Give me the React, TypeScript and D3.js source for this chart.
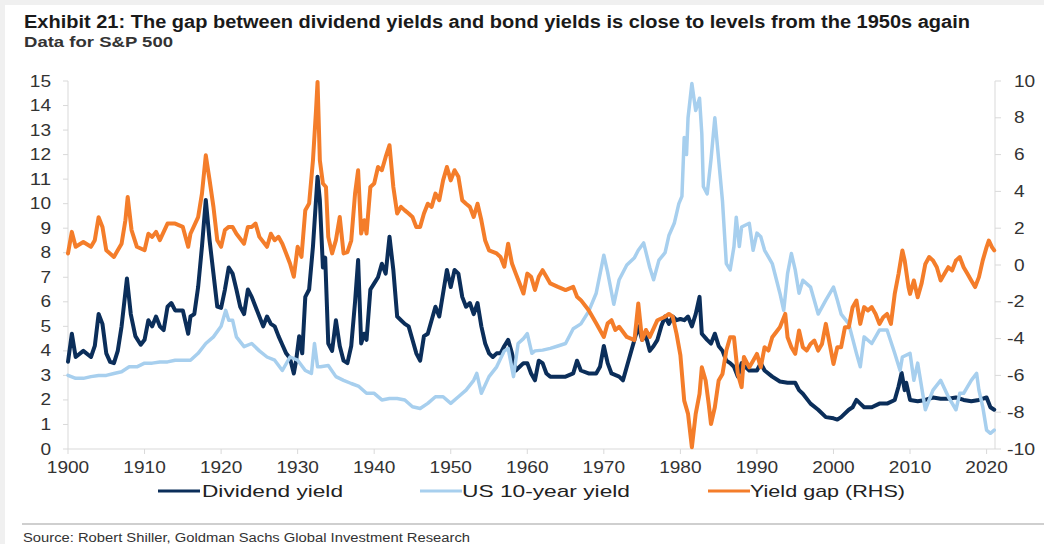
import React from "react";
import { scaleLinear, line, range } from "d3";

// S&P 500 data: [year, value]
const dividendYield: [number, number][] = [
  [1900, 3.56], [1900.5, 4.7], [1901, 3.75], [1902, 4.0], [1903, 3.75], [1903.5, 4.2], [1904, 5.5], [1904.5, 5.1],
  [1905, 3.9], [1905.5, 3.55], [1906, 3.5], [1906.5, 4.0], [1907, 5.0], [1907.7, 6.95], [1908.2, 5.5], [1908.8, 4.6],
  [1909.5, 4.25], [1910, 4.45], [1910.5, 5.25], [1911, 5.0], [1911.5, 5.4], [1912, 5.0], [1912.5, 4.85], [1913, 5.8],
  [1913.5, 5.95], [1914, 5.65], [1915, 5.65], [1915.7, 4.7], [1916, 5.4], [1916.5, 5.5], [1917, 6.6], [1917.5, 8.25],
  [1918, 10.15], [1918.5, 8.5], [1919, 7.15], [1919.5, 5.8], [1920, 5.75], [1920.5, 6.5], [1921, 7.4], [1921.5, 7.15],
  [1922, 6.5], [1922.5, 5.8], [1923, 5.5], [1923.5, 6.5], [1924, 6.2], [1924.5, 5.8], [1925, 5.4], [1925.5, 5.0],
  [1926, 5.4], [1926.5, 5.1], [1927, 5.0], [1927.5, 4.6], [1928, 4.25], [1928.5, 3.9], [1929, 3.7], [1929.5, 3.08],
  [1929.8, 3.6], [1930.2, 4.6], [1930.6, 3.9], [1931, 6.2], [1931.5, 6.5], [1932, 8.25], [1932.4, 10.15], [1932.6, 11.1],
  [1932.9, 10.15], [1933.3, 7.4], [1933.6, 7.8], [1934, 4.3], [1934.5, 4.0], [1935, 5.25], [1935.5, 4.2], [1936, 3.6],
  [1936.5, 3.5], [1937, 4.2], [1937.5, 6.0], [1937.9, 7.7], [1938.3, 4.3], [1938.7, 4.7], [1939, 4.45], [1939.5, 6.5],
  [1940, 6.75], [1940.5, 7.0], [1941, 7.55], [1941.5, 7.15], [1942, 8.65], [1942.5, 7.3], [1943, 5.4], [1943.5, 5.25],
  [1944, 5.1], [1944.5, 5.0], [1945, 4.45], [1945.5, 3.9], [1946, 3.6], [1946.5, 4.6], [1947, 4.7], [1947.5, 5.25],
  [1948, 5.8], [1948.5, 5.4], [1949, 6.35], [1949.5, 7.3], [1950, 6.6], [1950.5, 7.3], [1951, 7.15], [1951.5, 6.2],
  [1952, 5.8], [1952.5, 5.95], [1953, 5.5], [1953.5, 5.95], [1954, 5.0], [1954.5, 4.3], [1955, 3.9], [1955.5, 3.75],
  [1956, 3.9], [1956.5, 3.9], [1957, 4.2], [1957.5, 4.45], [1958, 3.9], [1958.5, 3.2], [1959, 3.35], [1959.5, 3.5],
  [1960, 3.5], [1960.5, 3.08], [1961, 2.8], [1961.5, 3.6], [1962, 3.5], [1962.5, 3.08], [1963, 2.95], [1964, 2.95],
  [1965, 2.95], [1966, 3.08], [1966.5, 3.6], [1967, 3.2], [1968, 3.08], [1969, 3.08], [1969.5, 3.35], [1970, 4.2],
  [1970.5, 3.5], [1971, 3.08], [1972, 2.95], [1972.5, 2.8], [1973, 3.35], [1973.5, 3.9], [1974, 4.45], [1974.5, 5.0],
  [1975, 4.45], [1975.5, 4.6], [1976, 4.0], [1976.5, 4.2], [1977, 4.45], [1977.5, 5.0], [1978, 5.4], [1978.5, 5.1],
  [1979, 5.4], [1979.5, 5.25], [1980, 5.3], [1980.5, 5.25], [1981, 5.4], [1981.5, 5.0], [1982, 5.5], [1982.5, 6.2],
  [1982.8, 4.7], [1983.5, 4.45], [1984, 4.3], [1984.5, 4.7], [1985, 4.2], [1985.5, 4.0], [1986, 3.6], [1986.5, 3.5],
  [1987, 3.35], [1987.5, 2.95], [1988, 3.5], [1988.5, 3.35], [1989, 3.2], [1990, 3.2], [1990.5, 3.5], [1991, 3.2],
  [1992, 2.95], [1993, 2.75], [1994, 2.7], [1995, 2.7], [1995.5, 2.4], [1996, 2.25], [1997, 1.85], [1998, 1.6],
  [1999, 1.3], [2000, 1.25], [2000.5, 1.2], [2001, 1.3], [2002, 1.6], [2002.5, 1.7], [2003, 2.0], [2003.5, 1.85],
  [2004, 1.7], [2005, 1.7], [2006, 1.85], [2007, 1.85], [2008, 2.0], [2008.5, 2.55], [2008.9, 3.1], [2009.3, 2.4],
  [2009.5, 2.7], [2010, 2.0], [2011, 1.95], [2012, 2.0], [2013, 2.1], [2014, 2.05], [2015, 2.05], [2016, 2.1],
  [2017, 2.0], [2018, 1.95], [2019, 2.0], [2020, 2.1], [2020.5, 1.7], [2021, 1.6],
];

const us10yYield: [number, number][] = [
  [1900, 3.0], [1901, 2.88], [1902, 2.88], [1903, 2.95], [1904, 3.0], [1905, 3.0], [1906, 3.08], [1907, 3.15],
  [1908, 3.35], [1909, 3.35], [1910, 3.5], [1911, 3.5], [1912, 3.55], [1913, 3.55], [1914, 3.62], [1915, 3.62],
  [1916, 3.62], [1917, 3.9], [1918, 4.3], [1919, 4.57], [1920, 5.0], [1920.6, 5.65], [1921, 5.25], [1921.5, 5.25],
  [1922, 4.57], [1923, 4.17], [1924, 4.3], [1925, 4.0], [1926, 3.75], [1927, 3.62], [1928, 3.2], [1929, 3.75],
  [1930, 3.62], [1931, 3.2], [1931.8, 3.08], [1932.2, 4.3], [1932.6, 3.35], [1933, 3.35], [1934, 3.4], [1935, 2.95],
  [1936, 2.8], [1937, 2.67], [1938, 2.55], [1939, 2.27], [1940, 2.27], [1941, 2.0], [1942, 2.06], [1943, 2.06],
  [1944, 2.0], [1945, 1.72], [1946, 1.65], [1947, 1.86], [1948, 2.13], [1949, 2.13], [1950, 1.86], [1951, 2.13],
  [1952, 2.4], [1953, 2.8], [1953.4, 3.08], [1954, 2.27], [1955, 2.95], [1956, 3.35], [1957, 4.0], [1957.5, 4.1],
  [1958.2, 2.95], [1958.8, 4.3], [1959.5, 4.5], [1960, 4.7], [1960.6, 3.9], [1961, 4.0], [1962, 4.03], [1963, 4.1],
  [1964, 4.2], [1965, 4.3], [1966, 4.9], [1967, 5.1], [1968, 5.6], [1969, 6.35], [1970, 7.9], [1970.5, 7.2],
  [1971.3, 5.9], [1972, 6.9], [1973, 7.5], [1974, 7.8], [1974.5, 8.1], [1975.2, 8.4], [1976, 7.4], [1976.5, 6.9],
  [1977.2, 7.7], [1978, 8.0], [1978.5, 8.7], [1979.2, 9.2], [1979.8, 10.0], [1980.2, 10.3], [1980.5, 12.7],
  [1980.8, 12.0], [1981, 13.5], [1981.5, 14.9], [1982, 13.8], [1982.5, 14.3], [1982.8, 12.85], [1983, 10.7],
  [1983.5, 10.4], [1984, 11.8], [1984.5, 13.5], [1985, 11.8], [1985.5, 10.1], [1986, 7.56], [1986.5, 7.3],
  [1987, 8.25], [1987.3, 9.45], [1987.7, 8.25], [1988, 9.05], [1989, 9.2], [1989.5, 8.1], [1990, 8.8], [1990.5, 8.65],
  [1991, 8.1], [1992, 7.56], [1993, 6.35], [1993.5, 5.65], [1994, 7.15], [1994.5, 7.97], [1995, 7.3], [1995.5, 6.35],
  [1996, 6.88], [1997, 6.6], [1998, 5.5], [1999, 6.07], [2000, 6.6], [2000.5, 6.07], [2001, 5.5], [2002, 5.1],
  [2003, 3.9], [2003.5, 3.35], [2004, 4.57], [2005, 4.3], [2006, 4.85], [2007, 4.85], [2008, 3.9], [2008.7, 3.2],
  [2009, 3.75], [2010, 3.9], [2010.5, 2.8], [2011, 3.5], [2012, 1.6], [2013, 2.4], [2014, 2.8], [2015, 2.13],
  [2016, 1.6], [2016.5, 2.27], [2017, 2.27], [2018, 2.8], [2018.7, 3.08], [2019, 2.4], [2019.5, 1.72], [2020, 0.77],
  [2020.5, 0.64], [2021, 0.77],
];

// yield gap, right hand scale
const yieldGap: [number, number][] = [
  [1900, 0.63], [1900.5, 1.8], [1901, 0.99], [1902, 1.25], [1903, 0.99], [1903.5, 1.35], [1904, 2.6], [1904.5, 2.07],
  [1905, 0.8], [1906, 0.44], [1906.5, 0.8], [1907, 1.16], [1907.5, 2.43], [1907.8, 3.7], [1908.3, 1.9], [1909, 0.99],
  [1910, 0.8], [1910.5, 1.7], [1911, 1.53], [1911.5, 1.8], [1912, 1.35], [1913, 2.25], [1914, 2.25], [1915, 2.07],
  [1915.7, 0.99], [1916, 1.7], [1917, 2.6], [1917.5, 3.88], [1918, 5.96], [1918.5, 4.6], [1919, 3.16], [1919.5, 1.35],
  [1920, 0.99], [1920.5, 1.9], [1921, 2.07], [1921.5, 2.07], [1922, 1.7], [1923, 1.16], [1923.5, 2.07], [1924, 2.07],
  [1924.5, 2.25], [1925, 1.53], [1926, 0.99], [1926.5, 1.7], [1927, 1.35], [1927.5, 1.53], [1928, 1.16], [1928.5, 0.63],
  [1929, 0.08], [1929.5, -0.64], [1930, 0.99], [1930.5, 0.44], [1931, 2.98], [1931.5, 3.34], [1932, 5.69], [1932.4, 8.4],
  [1932.6, 9.95], [1932.9, 5.69], [1933.3, 4.43], [1933.7, 4.24], [1934, 1.53], [1934.5, 0.63], [1935, 1.35], [1935.5, 2.61],
  [1936, 0.63], [1936.5, 0.7], [1937, 1.33], [1937.5, 3.88], [1937.9, 5.15], [1938.3, 1.71], [1938.7, 2.43], [1939, 1.71],
  [1939.5, 4.24], [1940, 4.43], [1940.5, 5.33], [1941, 5.15], [1941.5, 5.87], [1942, 6.51], [1942.5, 4.24], [1943, 2.8],
  [1943.5, 3.16], [1944, 2.97], [1944.5, 2.8], [1945, 2.61], [1945.5, 2.07], [1946, 2.07], [1946.5, 2.8], [1947, 3.33],
  [1947.5, 3.16], [1948, 3.88], [1948.5, 3.52], [1949, 4.6], [1949.5, 5.33], [1950, 4.6], [1950.5, 5.15], [1951, 4.79],
  [1951.5, 3.52], [1952, 3.33], [1952.5, 3.16], [1953, 2.61], [1953.5, 3.33], [1954, 2.43], [1954.5, 1.33], [1955, 0.8],
  [1956, 0.63], [1956.5, 0.44], [1957, -0.09], [1957.5, 1.16], [1958, 0.08], [1958.5, -0.47], [1959, -1.0], [1959.5, -1.55],
  [1960, -0.47], [1960.5, -0.64], [1961, -1.36], [1961.5, -0.64], [1962, -0.28], [1962.5, -0.64], [1963, -1.0], [1964, -1.19],
  [1965, -1.36], [1966, -1.19], [1966.5, -1.73], [1967, -1.91], [1968, -2.45], [1969, -3.17], [1970, -3.91], [1970.5, -3.17],
  [1971, -3.0], [1971.5, -3.53], [1972, -3.36], [1973, -3.91], [1974, -4.08], [1974.5, -2.09], [1975, -4.08], [1975.5, -3.53],
  [1976, -3.91], [1977, -3.0], [1978, -2.81], [1978.5, -2.66], [1979, -2.81], [1979.5, -3.74], [1980, -4.9], [1980.5, -7.37],
  [1981, -8.09], [1981.5, -9.9], [1982, -8.09], [1982.5, -7.0], [1982.8, -5.56], [1983.3, -6.28], [1983.7, -7.55], [1984, -8.64],
  [1984.5, -7.73], [1985, -6.28], [1985.5, -5.92], [1986, -4.65], [1986.5, -3.93], [1987, -3.93], [1987.5, -5.92], [1988, -6.64],
  [1988.3, -5.0], [1989, -5.56], [1989.5, -5.2], [1990, -4.83], [1990.5, -5.56], [1991, -4.47], [1991.5, -4.65], [1992, -3.93],
  [1993, -3.38], [1993.7, -2.66], [1994, -3.93], [1994.5, -4.47], [1995, -4.83], [1995.5, -3.56], [1996, -4.47], [1996.5, -4.65],
  [1997, -4.29], [1997.5, -4.11], [1998, -4.65], [1998.5, -4.29], [1999, -3.2], [1999.5, -4.29], [2000, -5.38], [2000.5, -4.47],
  [2001, -4.47], [2001.5, -3.38], [2002, -3.38], [2002.5, -2.29], [2003, -1.93], [2003.5, -3.2], [2004, -2.29], [2004.5, -2.47],
  [2005, -2.29], [2005.5, -2.66], [2006, -3.2], [2006.5, -2.84], [2007, -2.66], [2007.5, -3.2], [2008, -1.57], [2008.5, -0.48],
  [2009, 0.79], [2009.3, 0.25], [2009.8, -1.2], [2010, -1.57], [2010.5, -0.84], [2011, -1.75], [2011.5, -1.02], [2012, 0.06],
  [2012.5, 0.43], [2013, 0.25], [2013.5, -0.12], [2014, -0.84], [2014.5, -0.48], [2015, -0.12], [2015.5, -0.3], [2016, 0.25],
  [2016.5, 0.43], [2017, -0.12], [2017.5, -0.48], [2018, -0.84], [2018.5, -1.2], [2019, -0.66], [2019.5, 0.25], [2020, 0.97],
  [2020.3, 1.33], [2020.7, 0.97], [2021, 0.79],
];

const leftTicks = range(0, 16, 1);
const rightTicks = range(-10, 11, 2);
const yearTicks = range(1900, 2021, 10);

const seriesNames = ["Dividend yield", "US 10-year yield", "Yield gap (RHS)"];
const seriesColors = ["#0b2e5a", "#a7cfee", "#f47d2a"];

const W = 1044;
const H = 544;
const left = 68;
const right = 995;
const top = 81;
const bottom = 449;
const font = "'Liberation Sans', Arial, sans-serif";

// the exhibit's text is drawn slightly wide, so label widths are pinned
const labelWidth = (s: string) =>
  s.split("").reduce((w, c) => w + (c === "-" ? 7 : 10.6), 0);

export default function App() {
  const x = scaleLinear().domain([1900, 2021.1]).range([left, right]);
  const yLeft = scaleLinear().domain([0, 15]).range([bottom, top]);
  const yRight = scaleLinear().domain([-10, 10]).range([bottom, top]);

  const lineLeft = line<[number, number]>().x((d) => x(d[0])).y((d) => yLeft(d[1]));
  const lineRight = line<[number, number]>().x((d) => x(d[0])).y((d) => yRight(d[1]));

  const legend = [
    { lx: 158, tx: 202, tw: 141 },
    { lx: 420, tx: 462, tw: 168 },
    { lx: 708, tx: 750, tw: 155 },
  ];

  return (
    <svg width={W} height={H} style={{ position: "absolute", left: 0, top: 0 }} fontFamily={font}>
      <rect width={W} height={H} fill="#f0f0f0" />
      <rect x={5} y={5} width={W - 5} height={H - 5} fill="#ffffff" />

      <text x={24} y={28} fontSize={18} fontWeight="bold" fill="#1a1a1a" textLength={946} lengthAdjust="spacingAndGlyphs">
        Exhibit 21: The gap between dividend yields and bond yields is close to levels from the 1950s again
      </text>
      <text x={24} y={47} fontSize={14} fontWeight="bold" fill="#333" textLength={149} lengthAdjust="spacingAndGlyphs">
        Data for S&amp;P 500
      </text>

      {/* axes */}
      <g stroke="#d9d9d9" strokeWidth={1}>
        <line x1={left} x2={left} y1={top} y2={bottom} />
        <line x1={right} x2={right} y1={top} y2={bottom} />
        <line x1={left} x2={right} y1={bottom} y2={bottom} />
        {leftTicks.map((t) => (
          <line key={"l" + t} x1={left - 5} x2={left} y1={yLeft(t)} y2={yLeft(t)} />
        ))}
        {rightTicks.map((t) => (
          <line key={"r" + t} x1={right} x2={right + 6} y1={yRight(t)} y2={yRight(t)} />
        ))}
        {yearTicks.map((t) => (
          <line key={"x" + t} x1={x(t)} x2={x(t)} y1={bottom} y2={bottom + 5} />
        ))}
      </g>
      <g fontSize={16} fill="#333">
        {leftTicks.map((t) => (
          <text key={"lt" + t} x={51} y={yLeft(t) + 5.5} textAnchor="end" textLength={labelWidth(String(t))} lengthAdjust="spacingAndGlyphs">
            {t}
          </text>
        ))}
        {rightTicks.map((t) => (
          <text key={"rt" + t} x={t < 0 ? 1007 : 1014} y={yRight(t) + 5.5} textLength={labelWidth(String(t))} lengthAdjust="spacingAndGlyphs">
            {t}
          </text>
        ))}
        {yearTicks.map((t) => (
          <text key={"xt" + t} x={x(t)} y={473} textAnchor="middle" textLength={labelWidth(String(t))} lengthAdjust="spacingAndGlyphs">
            {t}
          </text>
        ))}
      </g>

      {/* series */}
      <g fill="none" strokeLinejoin="round" strokeLinecap="round">
        <path d={lineLeft(dividendYield) || ""} stroke={seriesColors[0]} strokeWidth={4} />
        <path d={lineLeft(us10yYield) || ""} stroke={seriesColors[1]} strokeWidth={3.5} />
        <path d={lineRight(yieldGap) || ""} stroke={seriesColors[2]} strokeWidth={4} />
      </g>

      {/* legend */}
      {seriesNames.map((name, i) => (
        <g key={name}>
          <line x1={legend[i].lx} x2={legend[i].lx + 42} y1={491} y2={491} stroke={seriesColors[i]} strokeWidth={3} />
          <text x={legend[i].tx} y={497} fontSize={17} fill="#222" textLength={legend[i].tw} lengthAdjust="spacingAndGlyphs">
            {name}
          </text>
        </g>
      ))}

      <line x1={22} x2={W} y1={524} y2={524} stroke="#bfbfbf" strokeWidth={1.5} />
      <text x={23} y={542} fontSize={12.5} fill="#333" textLength={447} lengthAdjust="spacingAndGlyphs">
        Source: Robert Shiller, Goldman Sachs Global Investment Research
      </text>
    </svg>
  );
}
